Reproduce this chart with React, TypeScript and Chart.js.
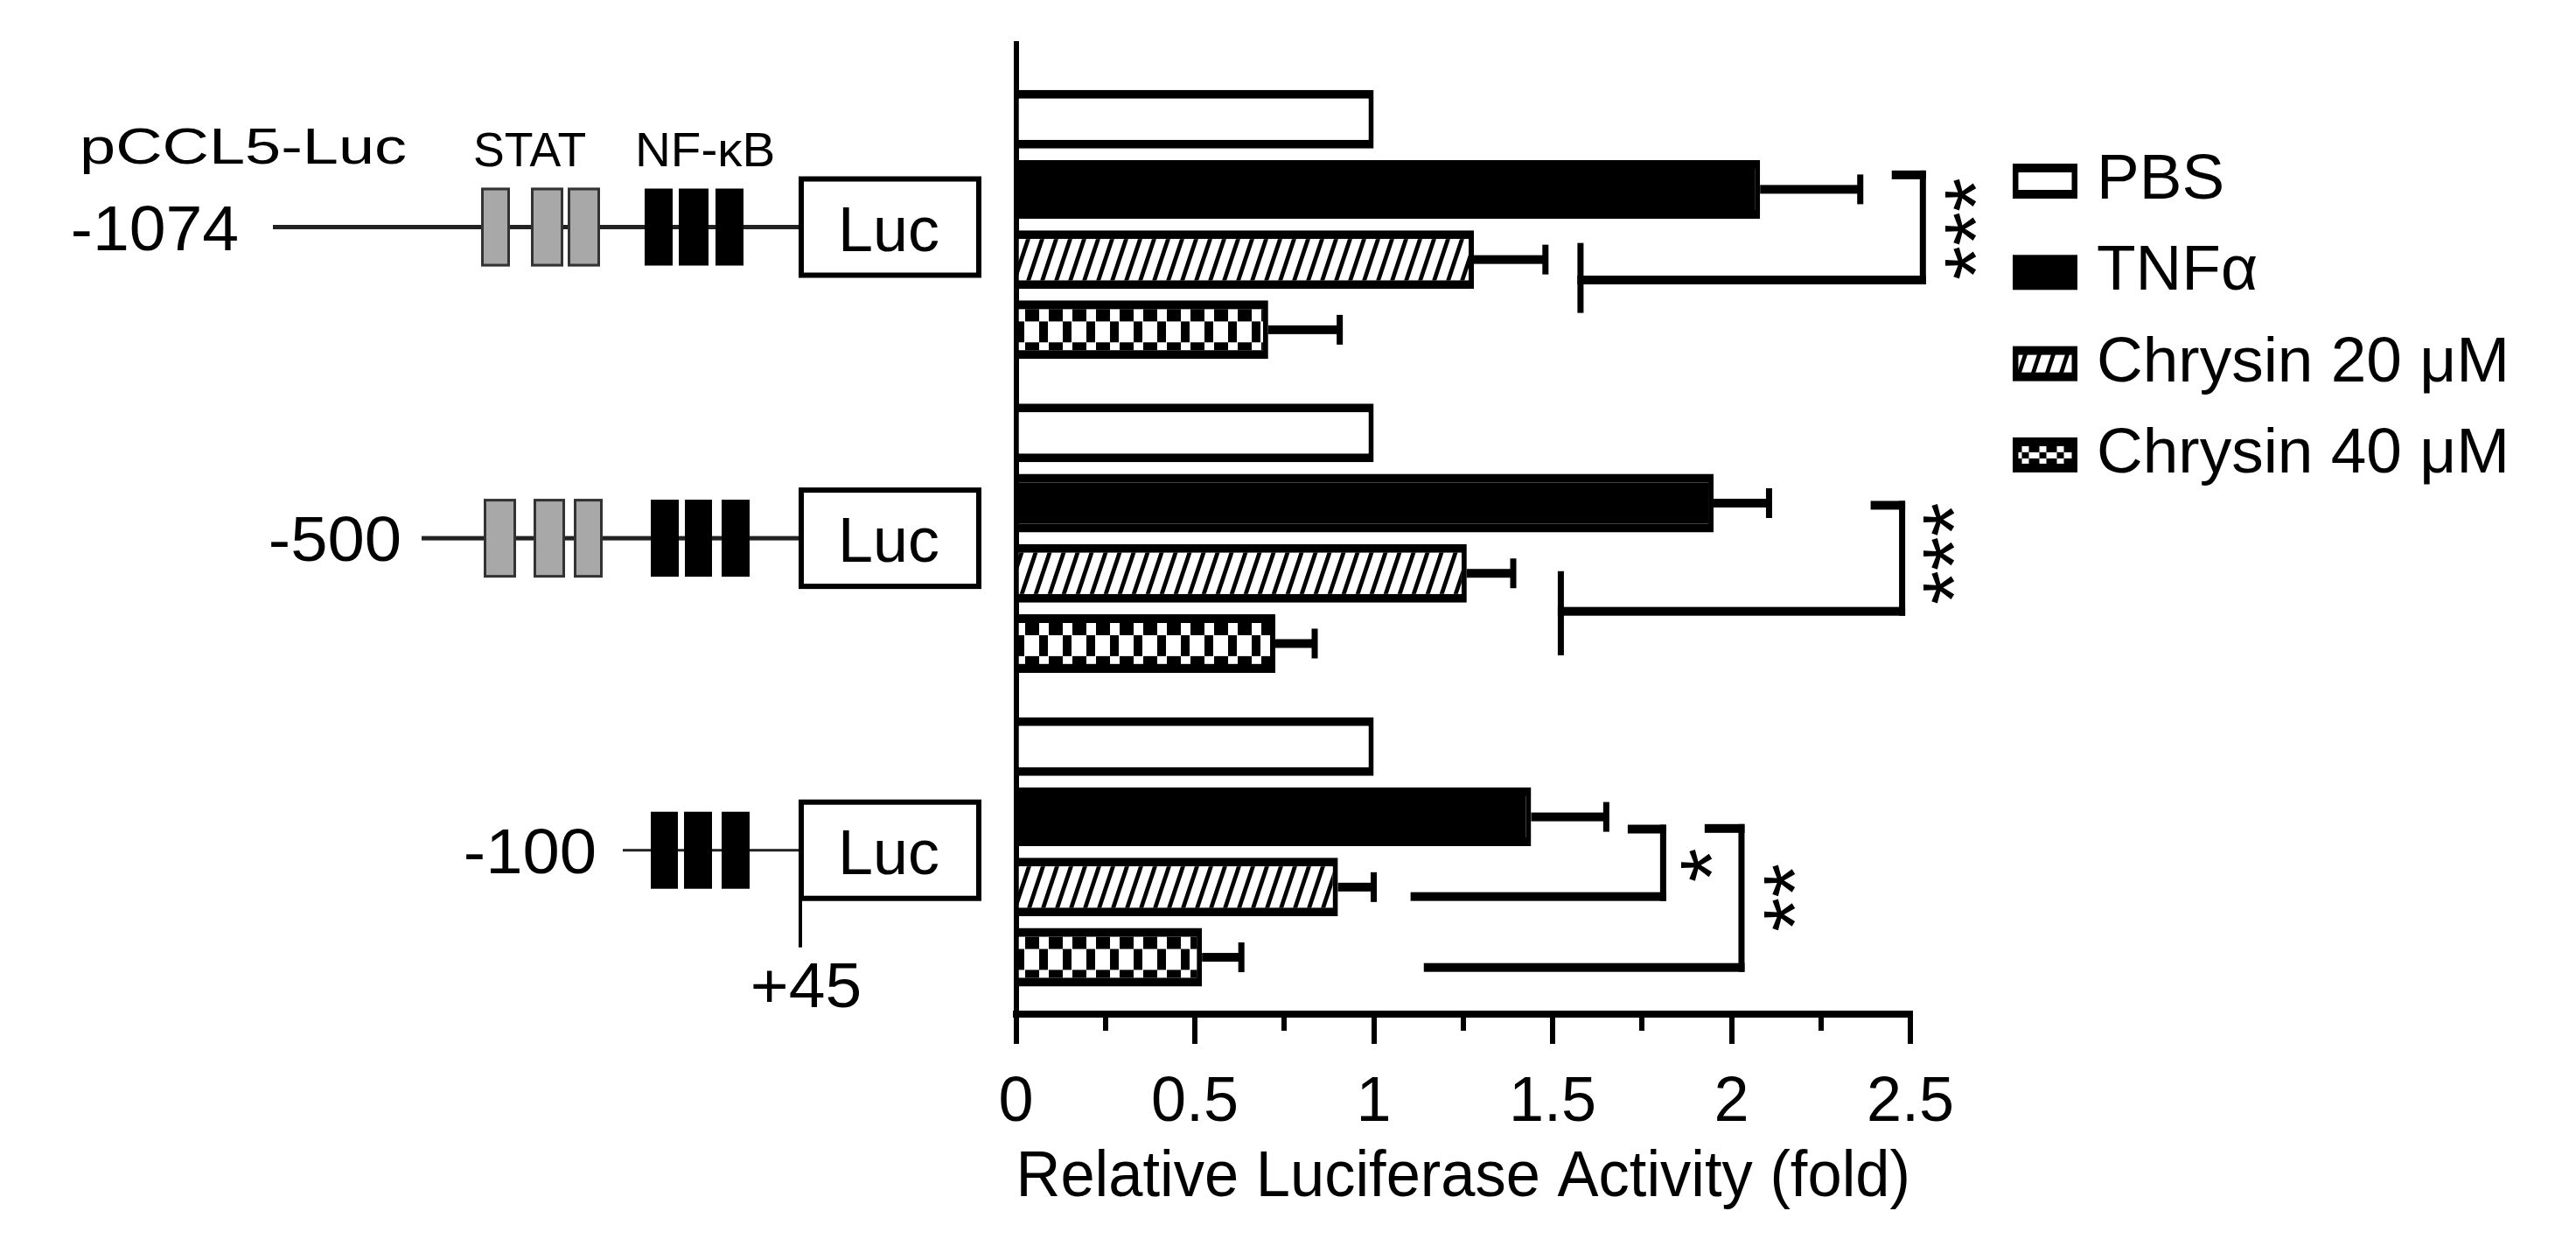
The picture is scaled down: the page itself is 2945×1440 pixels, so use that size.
import React, { useEffect, useRef } from 'react';
import { Chart, registerables } from 'chart.js';

Chart.register(...registerables);

const FONT = '"Liberation Sans", Arial, Helvetica, sans-serif';
const CANVAS_W = 2945;
const CANVAS_H = 1440;

// ---------------- data ----------------
const CONSTRUCTS = ['-1074', '-500', '-100'];
const GROUP_INDEX = [0, 1, 2];
const SERIES = ['PBS', 'TNFα', 'Chrysin 20 μM', 'Chrysin 40 μM'];
const PBS = [1.0, 1.0, 1.0];
const TNF = [2.08, 1.95, 1.44];
const CHRYSIN20 = [1.28, 1.26, 0.9];
const CHRYSIN40 = [0.705, 0.725, 0.52];
const PBS_ERR = [0, 0, 0];
const TNF_ERR = [0.28, 0.155, 0.21];
const CHRYSIN20_ERR = [0.2, 0.13, 0.1];
const CHRYSIN40_ERR = [0.2, 0.11, 0.11];
const MAJOR_TICKS = [0, 0.5, 1, 1.5, 2, 2.5];
const MINOR_STEP = 0.25;
const X_TITLE = 'Relative Luciferase Activity (fold)';

// significance annotations (data units: x = fold, y = group index)
const SIG_TEXT = ['***', '***', '*', '**'];
const SIG_ARM = [[2.448, 2.535], [2.389, 2.477], [1.71, 1.809], [1.925, 2.028]];
const SIG_TOP = [-0.158, 0.895, 1.927, 1.925];
const SIG_BOTTOM = [0.177, 1.233, 2.142, 2.368];
const SIG_LEFT = [1.578, 1.523, 1.103, 1.14];
const SIG_TICK: (number[] | null)[] = [[0.059, 0.282], [1.105, 1.373], null, null];
const SIG_LABEL_POS = [[2.626, 0.014], [2.565, 1.049], [1.888, 2.042], [2.121, 2.145]];

// ---------------- layout / style ----------------
const Y_MIN = -0.5759;
const Y_MAX = 2.5167;
const CAT_PCT = 0.895;
const BAR_PCT = 0.835;
const BAR_BORDER = { top: 10, bottom: 10, right: 6, left: 0 };

const isMajor = (v: number) => MAJOR_TICKS.some((t) => Math.abs(t - v) < 1e-6);

function makeHatchPattern(): CanvasPattern {
  const c = document.createElement('canvas');
  c.width = 16;
  c.height = 48;
  const g = c.getContext('2d')!;
  g.fillStyle = '#fff';
  g.fillRect(0, 0, 16, 48);
  g.fillStyle = '#000';
  for (const a of [-16, 0, 16]) {
    g.beginPath();
    g.moveTo(a, 48);
    g.lineTo(a + 5, 48);
    g.lineTo(a + 21, 0);
    g.lineTo(a + 16, 0);
    g.closePath();
    g.fill();
  }
  return g.createPattern(c, 'repeat')!;
}

function makeCheckerPattern(tileH: number): CanvasPattern {
  const c = document.createElement('canvas');
  c.width = 27;
  c.height = tileH;
  const g = c.getContext('2d')!;
  g.fillStyle = '#000';
  g.fillRect(0, 0, 27, tileH);
  g.fillStyle = '#fff';
  g.fillRect(0, 0, 11, 14);
  g.fillRect(0, 14, 27, 24);
  g.fillStyle = '#000';
  g.fillRect(0, 14, 10, 24);
  g.fillStyle = '#fff';
  g.fillRect(0, 38, 11, 9);
  return g.createPattern(c, 'repeat')!;
}

function inkText(ctx: CanvasRenderingContext2D, text: string, x0: number, x1: number, baseline: number, size: number) {
  ctx.save();
  ctx.font = `${size}px ${FONT}`;
  ctx.textAlign = 'left';
  ctx.textBaseline = 'alphabetic';
  const m = ctx.measureText(text);
  const inkW = m.actualBoundingBoxLeft + m.actualBoundingBoxRight;
  const s = inkW > 0 ? (x1 - x0) / inkW : 1;
  ctx.translate(x0 + m.actualBoundingBoxLeft * s, baseline);
  ctx.scale(s, 1);
  ctx.fillStyle = '#000';
  ctx.fillText(text, 0, 0);
  ctx.restore();
}

// promoter diagram (pixel layout)
const ROW_DY = [3, 0, -2];
const LABEL_INK = [[84, 271], [310, 457], [533, 680]];
const LINE_START = [312, 482, 712];
const LINE_W = [5, 5, 3];
const GRAY_BOXES = [
  [[550, 583], [607, 644], [649, 686]],
  [[553, 590], [610, 646], [656, 689]],
  [],
];
const BLACK_BOXES = [
  [[737, 769], [776, 810], [818, 850]],
  [[744, 776], [783, 814], [825, 857]],
  [[744, 775], [782, 814], [825, 857]],
];
const LUC_X = [913, 1122];

export default function App() {
  const canvasRef = useRef<HTMLCanvasElement | null>(null);

  useEffect(() => {
    document.body.style.margin = '0';
    const canvas = canvasRef.current;
    if (!canvas) return;

    const hatch = makeHatchPattern();
    const CHECK_TILE = 360;
    const checker = makeCheckerPattern(CHECK_TILE);

    const VALUES = [PBS, TNF, CHRYSIN20, CHRYSIN40];
    const ERRORS = [PBS_ERR, TNF_ERR, CHRYSIN20_ERR, CHRYSIN40_ERR];
    const FILLS: any[] = ['#ffffff', '#000000', hatch, checker];

    const plugin = {
      id: 'figureExtras',
      beforeDraw(chart: any) {
        const ctx = chart.ctx;
        ctx.save();
        ctx.fillStyle = '#fff';
        ctx.fillRect(0, 0, chart.width, chart.height);
        ctx.restore();
      },
      afterLayout(chart: any) {
        const ys = chart.scales.y;
        const p0 = ys.getPixelForValue(0);
        const spacing = Math.abs(ys.getPixelForValue(1) - p0);
        const size = spacing * CAT_PCT;
        const chunk = size / SERIES.length;
        const barSize = chunk * BAR_PCT;
        const center3 = p0 - size / 2 + chunk * 3 + chunk / 2;
        const innerTop = center3 - barSize / 2 + BAR_BORDER.top;
        checker.setTransform(new DOMMatrix([1, 0, 0, spacing / CHECK_TILE, 0, innerTop]));
      },
      afterDatasetsDraw(chart: any) {
        const ctx = chart.ctx;
        const xs = chart.scales.x;
        ctx.save();
        ctx.fillStyle = '#000';
        ERRORS.forEach((errs, di) => {
          const meta = chart.getDatasetMeta(di);
          meta.data.forEach((el: any, i: number) => {
            const e = errs[i];
            if (!e) return;
            const x0 = el.x;
            const x1 = xs.getPixelForValue(VALUES[di][i] + e);
            const y = el.y;
            ctx.fillRect(x0, y - 5, x1 - x0, 10);
            ctx.fillRect(x1 - 3.5, y - 17, 7, 34);
          });
        });
        ctx.restore();
      },
      afterDraw(chart: any) {
        const ctx: CanvasRenderingContext2D = chart.ctx;
        const xs = chart.scales.x;
        const ys = chart.scales.y;
        ctx.save();
        ctx.fillStyle = '#000';
        const hbar = (x1: number, x2: number, y: number, t = 10) =>
          ctx.fillRect(Math.min(x1, x2), y - t / 2, Math.abs(x2 - x1), t);
        const vbar = (x: number, y1: number, y2: number, t = 7) =>
          ctx.fillRect(x - t / 2, Math.min(y1, y2), t, Math.abs(y2 - y1));

        // significance brackets
        SIG_TEXT.forEach((txt, k) => {
          const xa = xs.getPixelForValue(SIG_ARM[k][0]);
          const xv = xs.getPixelForValue(SIG_ARM[k][1]);
          const yt = ys.getPixelForValue(SIG_TOP[k]);
          const yb = ys.getPixelForValue(SIG_BOTTOM[k]);
          const xl = xs.getPixelForValue(SIG_LEFT[k]);
          hbar(xa, xv + 3.5, yt);
          vbar(xv, yt - 5, yb + 5);
          const tick = SIG_TICK[k];
          hbar(tick ? xl - 3.5 : xl, xv + 3.5, yb);
          if (tick) vbar(xl, ys.getPixelForValue(tick[0]), ys.getPixelForValue(tick[1]));
          const cx = xs.getPixelForValue(SIG_LABEL_POS[k][0]);
          const cy = ys.getPixelForValue(SIG_LABEL_POS[k][1]);
          const F = 100;
          ctx.save();
          ctx.translate(cx, cy);
          ctx.rotate(-Math.PI / 2);
          ctx.font = `${F}px ${FONT}`;
          ctx.textAlign = 'center';
          ctx.textBaseline = 'alphabetic';
          ctx.fillText(txt, 0, 0.57 * F);
          ctx.restore();
        });

        // promoter diagram
        const rowY = GROUP_INDEX.map((g, i) => ys.getPixelForValue(g) + ROW_DY[i]);
        inkText(ctx, 'pCCL5-Luc', 95, 463, rowY[0] - 72.5, 57);
        inkText(ctx, 'STAT', 543, 669, rowY[0] - 70, 56);
        inkText(ctx, 'NF-κB', 730, 884, rowY[0] - 70, 56);
        CONSTRUCTS.forEach((lab, r) => {
          const cy = rowY[r];
          inkText(ctx, lab, LABEL_INK[r][0], LABEL_INK[r][1], cy + 26, 72);
          ctx.fillStyle = '#222';
          ctx.fillRect(LINE_START[r], cy - LINE_W[r] / 2, LUC_X[0] - LINE_START[r], LINE_W[r]);
          GRAY_BOXES[r].forEach(([a, b]) => {
            ctx.fillStyle = '#a8a8a8';
            ctx.fillRect(a, cy - 45, b - a, 90);
            ctx.strokeStyle = '#333';
            ctx.lineWidth = 3;
            ctx.strokeRect(a + 1.5, cy - 43.5, b - a - 3, 87);
          });
          ctx.fillStyle = '#000';
          BLACK_BOXES[r].forEach(([a, b]) => ctx.fillRect(a, cy - 44, b - a, 88));
          ctx.fillStyle = '#000';
          ctx.fillRect(LUC_X[0], cy - 58, LUC_X[1] - LUC_X[0], 116);
          ctx.fillStyle = '#fff';
          ctx.fillRect(LUC_X[0] + 6, cy - 52, LUC_X[1] - LUC_X[0] - 12, 104);
          inkText(ctx, 'Luc', 963, 1073, cy + 27, 72);
        });
        ctx.fillStyle = '#000';
        ctx.fillRect(LUC_X[0], rowY[2] + 57, 4, 54);
        inkText(ctx, '+45', 861, 983, rowY[2] + 179, 72);

        // legend
        const LEG_X = 2301;
        const LEG_W = 74;
        const LEG_H = 40;
        const LEG_Y0 = 207;
        const LEG_DY = 104.3;
        SERIES.forEach((label, i) => {
          const cy = LEG_Y0 + i * LEG_DY;
          const top = cy - LEG_H / 2;
          ctx.fillStyle = '#000';
          ctx.fillRect(LEG_X, top, LEG_W, LEG_H);
          const ix = LEG_X + 6.5;
          const iy = top + 10;
          const iw = LEG_W - 13;
          const ih = LEG_H - 20;
          if (i === 0) {
            ctx.fillStyle = '#fff';
            ctx.fillRect(ix, iy, iw, ih);
          } else if (i === 2) {
            ctx.fillStyle = hatch;
            ctx.fillRect(ix, iy, iw, ih);
          } else if (i === 3) {
            ctx.fillStyle = '#fff';
            ctx.fillRect(ix, iy + 7, iw, 7);
            for (let x = ix + 4; x < ix + iw - 2; x += 20) {
              ctx.fillStyle = '#fff';
              ctx.fillRect(x, iy, 8, 7);
              ctx.fillRect(x, iy + 14, 8, 6);
              ctx.fillStyle = '#000';
              ctx.fillRect(x, iy + 7, 8, 7);
            }
          }
          ctx.fillStyle = '#000';
          ctx.font = `73px ${FONT}`;
          ctx.textAlign = 'left';
          ctx.textBaseline = 'middle';
          ctx.fillText(label, 2397, cy);
        });
        ctx.restore();
      },
    };

    const chart = new Chart(canvas, {
      type: 'bar',
      data: {
        datasets: SERIES.map((label, di) => ({
          label,
          data: VALUES[di].map((v, i) => ({ x: v, y: GROUP_INDEX[i] })),
          backgroundColor: FILLS[di],
          borderColor: '#000',
          borderWidth: BAR_BORDER,
          borderSkipped: 'start',
          categoryPercentage: CAT_PCT,
          barPercentage: BAR_PCT,
        })),
      } as any,
      options: {
        indexAxis: 'y',
        responsive: false,
        maintainAspectRatio: false,
        animation: false,
        devicePixelRatio: 1,
        events: [],
        layout: { padding: { left: 1153.5, right: 761, top: 50, bottom: 48.6 } },
        plugins: {
          legend: { display: false },
          tooltip: { enabled: false },
          title: { display: false },
        },
        scales: {
          x: {
            type: 'linear',
            position: 'bottom',
            min: 0,
            max: 2.5,
            grid: {
              display: true,
              drawOnChartArea: false,
              drawTicks: true,
              tickLength: 59,
              lineWidth: 6,
              color: '#000',
              tickColor: '#000',
              tickWidth: 6,
              tickBorderDash: (c: any) => (c.tick && isMajor(c.tick.value) ? [30, 300] : [15, 300]),
            },
            border: { display: true, color: '#000', width: 8 },
            ticks: {
              stepSize: MINOR_STEP,
              autoSkip: false,
              maxRotation: 0,
              minRotation: 0,
              padding: 0,
              color: '#000',
              font: { family: FONT, size: 72 },
              callback: (v: any) => {
                const n = Number(v);
                return isMajor(n) ? String(Math.round(n * 100) / 100) : '';
              },
            },
            title: {
              display: true,
              text: X_TITLE,
              color: '#000',
              font: { family: FONT, size: 75 },
              padding: { top: -3, bottom: 0 },
            },
          },
          y: {
            type: 'linear',
            position: 'left',
            reverse: true,
            min: Y_MIN,
            max: Y_MAX,
            offset: false,
            afterBuildTicks: (s: any) => {
              s.ticks = GROUP_INDEX.map((v) => ({ value: v }));
            },
            grid: { display: false },
            ticks: { display: false },
            border: { display: true, color: '#000', width: 6 },
          },
        },
      } as any,
      plugins: [plugin as any],
    });

    return () => chart.destroy();
  }, []);

  return (
    <div style={{ position: 'absolute', left: 0, top: 0, width: CANVAS_W, height: CANVAS_H, background: '#fff' }}>
      <canvas ref={canvasRef} width={CANVAS_W} height={CANVAS_H} style={{ display: 'block', width: CANVAS_W, height: CANVAS_H }} />
    </div>
  );
}
